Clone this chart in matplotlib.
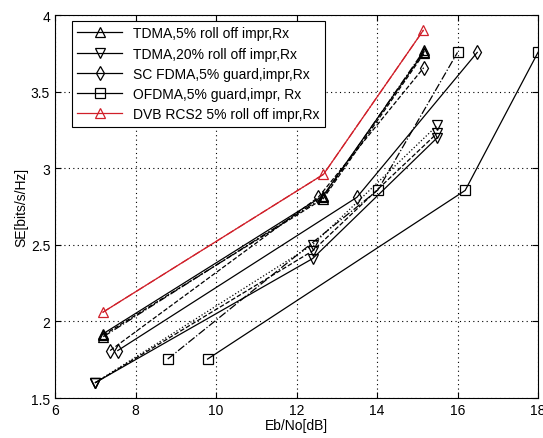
import matplotlib
matplotlib.use('Agg')
import matplotlib.pyplot as plt

plt.rcParams['font.family'] = ['Liberation Sans', 'DejaVu Sans']

# data (Eb/No in dB, SE in bits/s/Hz)
dvb_x = [7.19, 12.67, 15.15]
dvb_y = [2.06, 2.96, 3.90]

tdma5_x = [7.2, 12.66, 15.17]
tdma5_y = [[1.92, 2.82, 3.76], [1.91, 2.80, 3.75], [1.90, 2.81, 3.77]]

tdma20_x = [7.0, 12.4, 15.5]
tdma20_y = [[1.60, 2.41, 3.20], [1.60, 2.46, 3.23], [1.60, 2.50, 3.28]]

scfdma_x = [[7.56, 13.5, 16.49], [7.37, 12.54, 15.16]]
scfdma_y = [[1.81, 2.81, 3.756], [1.81, 2.81, 3.656]]

ofdma_x = [[9.79, 16.19, 18.0], [8.80, 14.02, 16.0]]
ofdma_y = [[1.754, 2.855, 3.756], [1.754, 2.857, 3.756]]

labels = ['TDMA,5% roll off impr,Rx', 'TDMA,20% roll off impr,Rx',
          'SC FDMA,5% guard,impr,Rx', 'OFDMA,5% guard,impr, Rx',
          'DVB RCS2 5% roll off impr,Rx']

xticks = [6, 8, 10, 12, 14, 16, 18]
yticks = [1.5, 2, 2.5, 3, 3.5, 4]
ytick_labels = ['1.5', '2', '2.5', '3', '3.5', '4']

fig = plt.figure(figsize=(5.43, 4.39), dpi=100)
ax = fig.add_axes([0.1013, 0.0911, 0.8895, 0.8724])

mk = dict(markerfacecolor='none', markersize=7, markeredgewidth=0.9, linewidth=0.9)

tdma5_styles = ['-', '--', '-.']
for i, yy in enumerate(tdma5_y):
    ax.plot(tdma5_x, yy, color='k', marker='^', linestyle=tdma5_styles[i],
            label=labels[0] if i == 0 else None, **mk)

tdma20_styles = ['-', '--', ':']
for i, yy in enumerate(tdma20_y):
    ax.plot(tdma20_x, yy, color='k', marker='v', linestyle=tdma20_styles[i],
            label=labels[1] if i == 0 else None, **mk)

sc_styles = ['-', '--']
for i in range(2):
    ax.plot(scfdma_x[i], scfdma_y[i], color='k', marker='d', linestyle=sc_styles[i],
            label=labels[2] if i == 0 else None, **mk)

of_styles = ['-', '-.']
for i in range(2):
    ax.plot(ofdma_x[i], ofdma_y[i], color='k', marker='s', linestyle=of_styles[i],
            label=labels[3] if i == 0 else None, **mk)

ax.plot(dvb_x, dvb_y, color='#d0202a', marker='^', linestyle='-', label=labels[4], **mk)
ax.plot(dvb_x, dvb_y, color='#d0202a', linestyle='-.', linewidth=0.9)

ax.set_xlim(6, 18)
ax.set_ylim(1.5, 4)
ax.set_xticks(xticks)
ax.set_yticks(yticks)
ax.set_yticklabels(ytick_labels)
ax.tick_params(direction='in', top=True, right=True, labelsize=10, length=4)
ax.grid(color='k', linestyle=(0, (1, 3)), linewidth=0.8)
ax.set_xlabel('Eb/No[dB]', fontsize=10, labelpad=1)
ax.set_ylabel('SE[bits/s/Hz]', fontsize=10, labelpad=2)

leg = ax.legend(loc='upper left', bbox_to_anchor=(0.035, 0.985), fontsize=10,
                handlelength=3.2, labelspacing=0.45, borderpad=0.4,
                fancybox=False, framealpha=1, edgecolor='k', borderaxespad=0)
leg.get_frame().set_linewidth(0.8)

fig.savefig('out.png', dpi=100)
